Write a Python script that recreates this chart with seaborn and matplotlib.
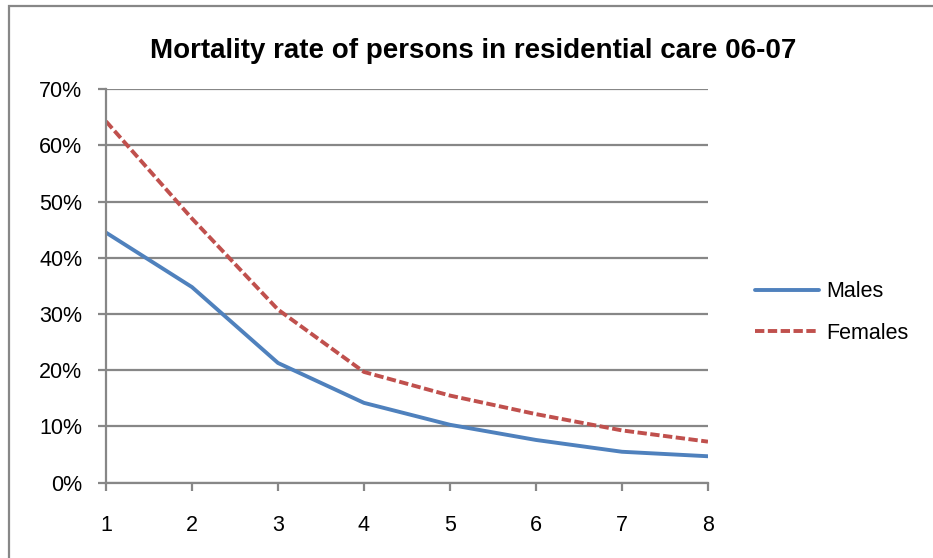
import pandas as pd
import matplotlib
matplotlib.use('Agg')
import matplotlib.pyplot as plt
import matplotlib.patches as patches
import seaborn as sns
from matplotlib.ticker import PercentFormatter

# Data (mortality rate, %)
years = [1, 2, 3, 4, 5, 6, 7, 8]
males = [44.5, 34.8, 21.3, 14.2, 10.3, 7.6, 5.5, 4.7]
females = [64.3, 47.0, 30.8, 19.7, 15.5, 12.2, 9.3, 7.3]

df = pd.DataFrame({
    'Year': years * 2,
    'Rate': males + females,
    'Sex': ['Males'] * len(years) + ['Females'] * len(years),
})

sns.set_style('white')
plt.rcParams['font.family'] = ['Liberation Sans', 'DejaVu Sans']
plt.rcParams['text.color'] = 'black'
plt.rcParams['xtick.color'] = 'black'
plt.rcParams['ytick.color'] = 'black'

grey = '#878787'
fig = plt.figure(figsize=(9.33, 5.58), dpi=100)
ax = fig.add_axes([0.1136, 0.135, 0.6452, 0.705])

sns.lineplot(data=df, x='Year', y='Rate', hue='Sex', style='Sex',
             palette={'Males': '#4F81BD', 'Females': '#C0504D'},
             dashes={'Males': '', 'Females': (2.4, 0.9)},
             linewidth=2.8, ax=ax, legend=True)

ax.set_xlim(1, 8)
ax.set_ylim(0, 70)
ax.set_xticks(years)
ax.set_yticks(range(0, 71, 10))
ax.yaxis.set_major_formatter(PercentFormatter(decimals=0))
ax.set_xlabel('')
ax.set_ylabel('')
ax.grid(axis='y', color=grey, linewidth=1.6)
ax.set_axisbelow(True)
for side in ['top', 'right']:
    ax.spines[side].set_visible(False)
for side in ['left', 'bottom']:
    ax.spines[side].set_color(grey)
    ax.spines[side].set_linewidth(1.6)
ax.tick_params(axis='both', direction='out', length=6, width=1.6, color=grey,
               labelcolor='black', labelsize=15.5, left=True, bottom=True)
ax.tick_params(axis='y', pad=11)
ax.tick_params(axis='x', pad=17)

ax.set_title('Mortality rate of persons in residential care 06-07',
             fontsize=20, fontweight='bold', x=0.61, y=1.058, color='black')

handles, labels = ax.get_legend_handles_labels()
ax.legend_.remove()
fig.legend(handles, labels, loc='center left', bbox_to_anchor=(0.788, 0.44),
           frameon=False, fontsize=15.5, handlelength=3.0, handletextpad=0.35,
           labelspacing=0.95)

# outer chart border (clipped by the page edge)
fig.patches.append(patches.Rectangle((9 / 933, -0.1), 1.2, 1 - 6 / 558 + 0.1,
                                     transform=fig.transFigure, fill=False,
                                     edgecolor=grey, linewidth=1.6))

fig.savefig('out.png', dpi=100)
